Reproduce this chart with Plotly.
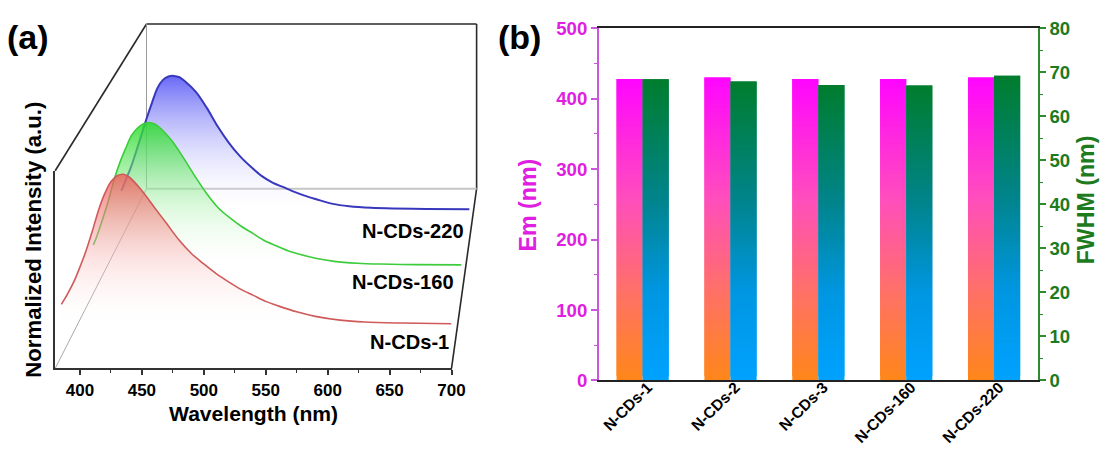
import plotly.graph_objects as go

# ------------------------------------------------------------------ data
# (a) normalized PL spectra (wavelength in nm, normalized intensity)
wl_ncd1 = [385, 390, 395, 400, 405, 410, 415, 420, 425, 430, 435, 440, 450, 460, 470,
           480, 490, 500, 510, 520, 530, 540, 550, 560, 575, 590, 610, 630, 660, 700]
int_ncd1 = [0.13, 0.20, 0.28, 0.38, 0.49, 0.62, 0.76, 0.87, 0.95, 0.99, 1.00, 0.98, 0.89, 0.78, 0.67,
            0.56, 0.47, 0.40, 0.335, 0.28, 0.23, 0.19, 0.15, 0.12, 0.08, 0.05, 0.025, 0.012, 0.005, 0.0]

wl_ncd160 = [382, 385, 390, 395, 400, 405, 410, 415, 420, 425, 430, 435, 440, 450, 460, 470,
             480, 490, 500, 510, 520, 530, 540, 550, 560, 575, 590, 610, 630, 660, 700]
int_ncd160 = [0.14, 0.20, 0.32, 0.45, 0.60, 0.72, 0.82, 0.91, 0.96, 0.99, 1.00, 0.99, 0.96, 0.87, 0.75, 0.62,
              0.50, 0.40, 0.33, 0.27, 0.22, 0.17, 0.135, 0.10, 0.075, 0.045, 0.025, 0.012, 0.006, 0.002, 0.0]

wl_ncd220 = [382, 385, 390, 395, 400, 405, 410, 415, 420, 425, 430, 435, 440, 450, 460, 470,
             480, 490, 500, 510, 520, 530, 540, 550, 560, 575, 590, 610, 630, 660, 700]
int_ncd220 = [0.14, 0.20, 0.30, 0.42, 0.55, 0.68, 0.80, 0.91, 0.97, 0.995, 1.00, 0.99, 0.96, 0.88, 0.76, 0.62,
              0.50, 0.40, 0.32, 0.25, 0.20, 0.165, 0.13, 0.10, 0.075, 0.04, 0.022, 0.01, 0.005, 0.002, 0.0]

wl_ticks = [400, 450, 500, 550, 600, 650, 700]
wl_minor = [425, 475, 525, 575, 625, 675]

# (b) emission peak and FWHM
samples = ["N-CDs-1", "N-CDs-2", "N-CDs-3", "N-CDs-160", "N-CDs-220"]
em_nm = [428, 430, 428, 428, 430]
fwhm_nm = [68.4, 67.9, 67.1, 67.0, 69.2]
em_ticks = [0, 100, 200, 300, 400, 500]
fwhm_ticks = [0, 10, 20, 30, 40, 50, 60, 70, 80]

# ------------------------------------------------------------------ layout helpers
W, H = 1105, 452
FONT = "Liberation Sans, Arial, sans-serif"
MAGENTA = "#e020e0"
DGREEN = "#1d7a1d"

# positions below are given in target-picture pixels and converted to page fractions
# (the photographed picture shows the page with a small inset)
SX, OX = 0.984, 6.0
SY, OY = 0.955, 9.0
FS = 1.0 / 0.97   # font compensation


def fx(px):
    return ((px - OX) / SX) / W


def fy(py):
    return 1 - ((py - OY) / SY) / H


def fs(size):
    return round(size * FS, 1)


fig = go.Figure()

# waterfall planes (picture geometry of each spectrum's own axes): back -> front
planes = [
    # (xaxis, yaxis, x_left, x_right, base_py, unit_px, top_py, bottom_py)
    ("x", "y", 124.8, 474.0, 208.5, 133.5, 65, 220),
    ("x2", "y2", 96.7, 466.0, 264.3, 142.6, 110, 280),
    ("x3", "y3", 61.0, 456.0, 323.3, 149.8, 170, 368),
]
spectra = [
    (wl_ncd220, int_ncd220, "#3838bc", "rgba(80,80,245,0.85)", 2.0),
    (wl_ncd160, int_ncd160, "#3ccc3c", "rgba(40,220,40,0.85)", 1.6),
    (wl_ncd1, int_ncd1, "#cf5a5a", "rgba(240,85,85,0.78)", 1.6),
]

layout_axes = {}
for (xa, ya, xl, xr, base, unit, top, bot), (wl, inten, lc, fc, lw) in zip(planes, spectra):
    fig.add_trace(go.Scatter(
        x=wl, y=inten, mode="lines", xaxis=xa, yaxis=ya,
        line=dict(color=lc, width=lw, shape="spline", smoothing=0.9),
        fill="tozeroy",
        fillgradient=dict(type="vertical", start=0, stop=1,
                          colorscale=[[0, "rgba(255,255,255,0)"], [1, fc]]),
        showlegend=False, hoverinfo="skip",
    ))
    xkey = "xaxis" if xa == "x" else "xaxis" + xa[1:]
    ykey = "yaxis" if ya == "y" else "yaxis" + ya[1:]
    layout_axes[xkey] = dict(domain=[fx(xl), fx(xr)], range=[380, 700], anchor=ya,
                             visible=False, showgrid=False, zeroline=False)
    layout_axes[ykey] = dict(domain=[fy(bot), fy(top)],
                             range=[(base - bot) / unit, (base - top) / unit],
                             anchor=xa, visible=False, showgrid=False, zeroline=False)

# front plane axes are visible
layout_axes["xaxis3"].update(
    visible=True, showline=True, linecolor="#333", linewidth=1.6,
    tickmode="array", tickvals=wl_ticks, ticks="outside", ticklen=5, tickwidth=1.5,
    tickcolor="#333", ticklabelstandoff=0,
    tickfont=dict(family=FONT, size=fs(16.5), color="black", weight="bold"),
    minor=dict(tickvals=wl_minor, ticks="outside", ticklen=3, tickwidth=1.2, tickcolor="#333"),
)
layout_axes["yaxis3"].update(
    visible=True, showline=True, linecolor="#333", linewidth=1.6,
    showticklabels=False, ticks="",
)

# ------------------------------------------------------------------ (b) gradient bars
N_SEG = 70


def lerp_scale(stops, t):
    for (t0, c0), (t1, c1) in zip(stops[:-1], stops[1:]):
        if t <= t1:
            f = (t - t0) / (t1 - t0)
            return "rgb(%d,%d,%d)" % tuple(round(a + (b - a) * f) for a, b in zip(c0, c1))
    return "rgb(%d,%d,%d)" % stops[-1][1]


em_stops = [(0, (255, 135, 25)), (0.3, (255, 112, 105)), (0.6, (255, 78, 188)), (1.0, (255, 5, 255))]
fw_stops = [(0, (0, 162, 255)), (0.3, (0, 150, 225)), (0.6, (0, 132, 140)), (1.0, (0, 125, 45))]


def gradient_bar(values, stops, offset, yaxis, name):
    xs, bases, heights, colors = [], [], [], []
    for cat, v in zip(samples, values):
        for k in range(N_SEG):
            b = v * k / N_SEG
            top = min(v, v * (k + 2) / N_SEG)
            xs.append(cat)
            bases.append(b)
            heights.append(top - b)
            colors.append(lerp_scale(stops, (k + 0.5) / N_SEG))
    return go.Bar(x=xs, y=heights, base=bases, width=0.297, offset=offset,
                  marker=dict(color=colors, line=dict(width=0)),
                  xaxis="x4", yaxis=yaxis, name=name, showlegend=False, hoverinfo="skip")


fig.add_trace(gradient_bar(em_nm, em_stops, -0.297, "y4", "Em"))
fig.add_trace(gradient_bar(fwhm_nm, fw_stops, 0.0, "y5", "FWHM"))

bx0, bx1, by0, by1 = 602.7, 1040.5, 380, 27.3
layout_axes["xaxis4"] = dict(
    domain=[fx(bx0), fx(bx1)], anchor="y4", type="category", range=[-0.5, 4.5],
    categoryorder="array", categoryarray=samples,
    showline=True, linecolor="#222", linewidth=1.6, mirror=True, ticks="",
    tickangle=-45, ticklabelstandoff=-10, ticklabelshift=5,
    tickfont=dict(family=FONT, size=15.5, color="black", weight="bold"),
    showgrid=False, zeroline=False,
)
layout_axes["yaxis4"] = dict(
    domain=[fy(by0), fy(by1)], anchor="x4", range=[0, 500], tickvals=em_ticks,
    showline=True, linecolor="#cc55dd", linewidth=1.5, ticks="outside", ticklen=6,
    tickwidth=1.5, tickcolor="#cc55dd",
    tickfont=dict(family=FONT, size=fs(18), color=MAGENTA, weight="bold"),
    minor=dict(dtick=50, ticks="outside", ticklen=3, tickcolor="#cc55dd", tickwidth=1.2),
    showgrid=False, zeroline=False,
)
layout_axes["yaxis5"] = dict(
    overlaying="y4", side="right", anchor="x4", range=[0, 80], tickvals=fwhm_ticks,
    showline=True, linecolor="#2f8a2f", linewidth=1.5, ticks="outside", ticklen=6,
    tickwidth=1.5, tickcolor="#2f8a2f",
    tickfont=dict(family=FONT, size=fs(18), color=DGREEN, weight="bold"),
    minor=dict(dtick=5, ticks="outside", ticklen=3, tickcolor="#2f8a2f", tickwidth=1.2),
    showgrid=False, zeroline=False,
)

# ------------------------------------------------------------------ 3D box edges
dark = dict(color="#2a2a2a", width=1.6)
shapes = []
for (x0, y0, x1, y1, ln) in [
    (61, 170, 152, 23, dark), (152, 23, 481, 23, dark), (481, 23, 481, 188, dark),
    (481, 188, 456, 368, dark),
    (152, 23, 152, 188, dict(color="#9a9a9a", width=1)),
    (152, 188, 481, 188, dict(color="#c6c6c6", width=2)),
    (61, 368, 152, 188, dict(color="#a8a8a8", width=1)),
]:
    shapes.append(dict(type="line", xref="paper", yref="paper",
                       x0=fx(x0), y0=fy(y0), x1=fx(x1), y1=fy(y1),
                       line=ln, layer="below"))


# ------------------------------------------------------------------ texts
def ann(text, px, py, size, color="black", angle=0, xanchor="center"):
    return dict(text=text, x=fx(px), y=fy(py), xref="paper", yref="paper",
                showarrow=False, textangle=angle, xanchor=xanchor, yanchor="middle",
                font=dict(family=FONT, size=fs(size), color=color, weight="bold"))


annotations = [
    ann("(a)", 11, 36, 33, xanchor="left"),
    ann("(b)", 500, 36, 33, xanchor="left"),
    ann("N-CDs-220", 470, 230, 19.5, xanchor="right"),
    ann("N-CDs-160", 460, 281, 19.5, xanchor="right"),
    ann("N-CDs-1", 455, 342, 19.5, xanchor="right"),
    ann("Normalized Intensity (a.u.)", 40, 239, 21.5, angle=-90),
    ann("Wavelength (nm)", 259, 413, 20.5),
    ann("Em (nm)", 532, 204, 22.5, color=MAGENTA, angle=-90),
    ann("FWHM (nm)", 1088, 199, 22.5, color=DGREEN, angle=-90),
]

fig.update_layout(
    width=W, height=H, autosize=False,
    margin=dict(l=0, r=0, t=0, b=0),
    paper_bgcolor="white", plot_bgcolor="rgba(0,0,0,0)",
    barmode="overlay", showlegend=False,
    shapes=shapes, annotations=annotations,
    **layout_axes,
)

fig.write_html("out.html", config={"displayModeBar": False},
               post_script="document.body.style.margin='0';document.body.style.overflow='hidden';")
